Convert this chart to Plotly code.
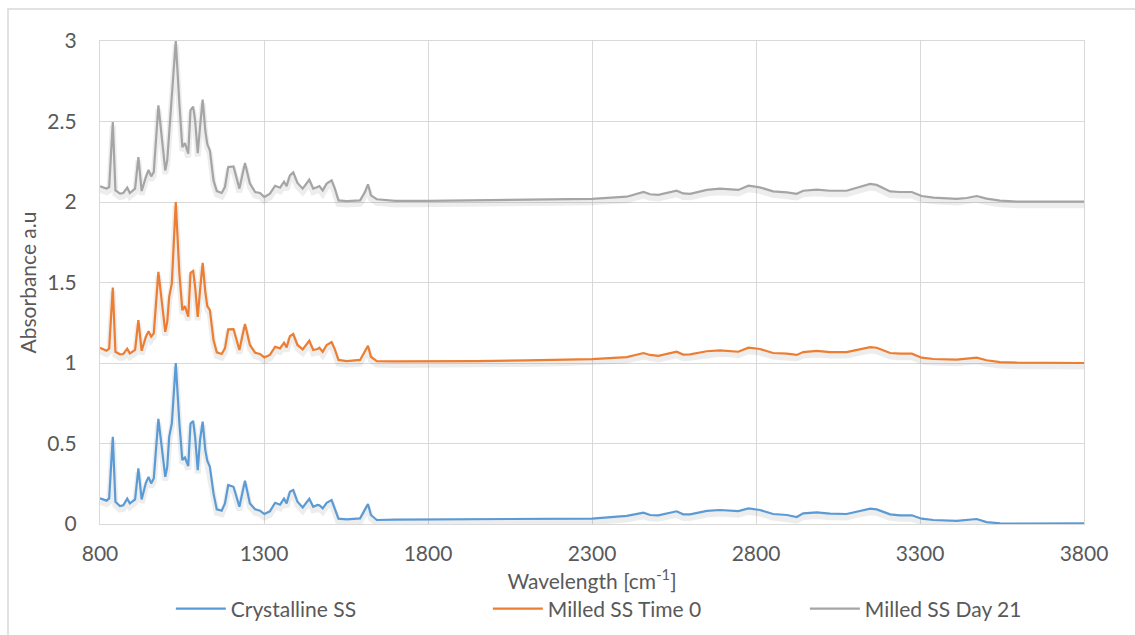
import plotly.graph_objects as go

# Wavenumber grid (cm^-1) shared by the three spectra
wavenumber = [
    800, 820, 828, 839, 847, 861, 871, 883, 891, 907, 917, 927, 940, 948, 956, 964,
    978, 987, 999, 1005, 1011, 1019, 1031, 1042, 1051, 1059, 1069, 1076, 1084, 1090,
    1098, 1105, 1113, 1121, 1127, 1135, 1146, 1156, 1171, 1181, 1191, 1207, 1225, 1242,
    1257, 1273, 1288, 1301, 1318, 1334, 1349, 1361, 1369, 1379, 1389, 1402, 1418, 1438,
    1450, 1463, 1469, 1479, 1491, 1506, 1516, 1527, 1552, 1593, 1608, 1617, 1626, 1644,
    1700, 1800, 1950, 2100, 2200, 2300,
    2406, 2457, 2477, 2502, 2558, 2578, 2599, 2650, 2690, 2731, 2746, 2777, 2812, 2852,
    2894, 2924, 2944, 2985, 3026, 3076, 3117, 3148, 3168, 3209, 3239, 3275, 3305, 3341,
    3412, 3442, 3473, 3503, 3544, 3595, 3700, 3800,
]

crystalline_ss = [
    0.159, 0.145, 0.159, 0.541, 0.138, 0.112, 0.116, 0.157, 0.128, 0.153, 0.345, 0.153,
    0.256, 0.293, 0.252, 0.283, 0.653, 0.483, 0.293, 0.355, 0.541, 0.624, 1.0, 0.624,
    0.397, 0.413, 0.36, 0.624, 0.64, 0.541, 0.335, 0.521, 0.636, 0.459, 0.393, 0.355,
    0.19, 0.091, 0.083, 0.128, 0.242, 0.231, 0.107, 0.269, 0.128, 0.091, 0.083, 0.062,
    0.079, 0.132, 0.12, 0.157, 0.128, 0.2, 0.211, 0.138, 0.103, 0.157, 0.107, 0.118,
    0.116, 0.097, 0.132, 0.149, 0.097, 0.033, 0.029, 0.035, 0.091, 0.124, 0.056, 0.025,
    0.027, 0.028, 0.03, 0.032, 0.033, 0.034,
    0.05, 0.07, 0.056, 0.054, 0.079, 0.06, 0.06, 0.081, 0.087, 0.081, 0.08, 0.097,
    0.087, 0.062, 0.056, 0.043, 0.066, 0.072, 0.064, 0.062, 0.083, 0.095, 0.091, 0.06,
    0.054, 0.054, 0.033, 0.025, 0.019, 0.023, 0.031, 0.012, 0.004, 0.002, 0.004, 0.004,
]

milled_time0 = [
    1.095, 1.076, 1.09, 1.469, 1.07, 1.054, 1.056, 1.089, 1.06, 1.081, 1.267, 1.076,
    1.163, 1.198, 1.163, 1.184, 1.566, 1.40, 1.194, 1.256, 1.411, 1.494, 2.0, 1.556,
    1.328, 1.353, 1.287, 1.56, 1.572, 1.473, 1.287, 1.452, 1.622, 1.442, 1.353, 1.328,
    1.143, 1.066, 1.056, 1.091, 1.209, 1.211, 1.081, 1.242, 1.112, 1.064, 1.056, 1.035,
    1.05, 1.101, 1.091, 1.126, 1.097, 1.167, 1.18, 1.112, 1.085, 1.138, 1.081, 1.087,
    1.095, 1.07, 1.112, 1.13, 1.085, 1.019, 1.012, 1.019, 1.07, 1.107, 1.039, 1.012,
    1.01, 1.01, 1.012, 1.016, 1.02, 1.024,
    1.037, 1.062, 1.05, 1.044, 1.07, 1.052, 1.054, 1.073, 1.079, 1.075, 1.07, 1.095,
    1.087, 1.062, 1.058, 1.05, 1.068, 1.075, 1.068, 1.068, 1.087, 1.099, 1.095, 1.062,
    1.058, 1.058, 1.033, 1.025, 1.021, 1.025, 1.033, 1.017, 1.006, 1.002, 1.0, 1.0,
]

milled_day21 = [
    2.097, 2.083, 2.093, 2.496, 2.072, 2.052, 2.056, 2.089, 2.056, 2.083, 2.279, 2.068,
    2.155, 2.2, 2.159, 2.186, 2.6, 2.424, 2.196, 2.258, 2.44, 2.65, 3.0, 2.61,
    2.34, 2.366, 2.3, 2.57, 2.593, 2.506, 2.304, 2.465, 2.636, 2.444, 2.36, 2.32,
    2.134, 2.068, 2.056, 2.093, 2.217, 2.221, 2.083, 2.242, 2.114, 2.062, 2.056, 2.031,
    2.052, 2.101, 2.089, 2.126, 2.099, 2.165, 2.184, 2.118, 2.083, 2.138, 2.083, 2.093,
    2.099, 2.072, 2.114, 2.134, 2.083, 2.01, 2.006, 2.01, 2.062, 2.11, 2.041, 2.017,
    2.007, 2.007, 2.01, 2.016, 2.018, 2.02,
    2.033, 2.062, 2.048, 2.044, 2.07, 2.053, 2.051, 2.075, 2.083, 2.079, 2.075, 2.101,
    2.091, 2.066, 2.06, 2.051, 2.07, 2.077, 2.07, 2.07, 2.095, 2.112, 2.106, 2.066,
    2.062, 2.062, 2.037, 2.027, 2.019, 2.025, 2.037, 2.021, 2.008, 2.002, 2.002, 2.002,
]

series_names = ["Crystalline SS", "Milled SS Time 0", "Milled SS Day 21"]
series_colors = ["#5b9bd5", "#ed7d31", "#a5a5a5"]
series_values = [crystalline_ss, milled_time0, milled_day21]

x_ticks = [800, 1300, 1800, 2300, 2800, 3300, 3800]
y_ticks = [0, 0.5, 1, 1.5, 2, 2.5, 3]

text_color = "#595959"
grid_color = "#d9d9d9"
font_family = "Lato, 'Open Sans', sans-serif"
font_size = 21

fig = go.Figure()

# soft drop shadow under each spectrum
shadow_drop = 0.022
for vals in series_values:
    fig.add_trace(go.Scatter(
        x=wavenumber, y=[v - shadow_drop for v in vals], mode="lines",
        line=dict(color="rgba(0,0,0,0.07)", width=6),
        showlegend=False, hoverinfo="skip",
    ))

for name, color, vals in zip(series_names, series_colors, series_values):
    fig.add_trace(go.Scatter(
        x=wavenumber, y=vals, mode="lines", name=name,
        line=dict(color=color, width=2.2),
    ))

fig.update_layout(
    width=1135, height=635,
    margin=dict(l=100, r=51, t=41, b=111, autoexpand=False),
    paper_bgcolor="white", plot_bgcolor="white",
    font=dict(family=font_family, color=text_color, size=font_size),
    showlegend=True,
    legend=dict(
        orientation="h", x=0.072, xanchor="left", y=-0.176, yanchor="middle",
        font=dict(size=font_size, color=text_color), entrywidth=252, itemwidth=50,
        bgcolor="rgba(0,0,0,0)",
    ),
    shapes=[dict(
        type="rect", xref="paper", yref="paper",
        x0=-0.0935, x1=1.06, y0=-0.25, y1=1.066,
        line=dict(color=grid_color, width=1.5), layer="below",
    )],
)

fig.update_xaxes(
    range=[800, 3800], tickvals=x_ticks, ticktext=[str(t) for t in x_ticks],
    showgrid=True, gridcolor=grid_color, gridwidth=1.3,
    showline=True, linecolor=grid_color, linewidth=1.3, mirror=True,
    zeroline=False, ticks="", ticklabelstandoff=11, automargin=False,
    tickfont=dict(size=font_size, color=text_color),
    title=dict(text="Wavelength [cm<sup>-1</sup>]", font=dict(size=font_size, color=text_color), standoff=2),
)
fig.update_yaxes(
    range=[0, 3], tickvals=y_ticks, ticktext=["0", "0.5", "1", "1.5", "2", "2.5", "3"],
    showgrid=True, gridcolor=grid_color, gridwidth=1.3,
    showline=True, linecolor=grid_color, linewidth=1.3, mirror=True,
    zeroline=False, ticks="", ticklabelstandoff=18, automargin=False,
    tickfont=dict(size=font_size, color=text_color),
    title=dict(text="Absorbance a.u", font=dict(size=font_size, color=text_color), standoff=4),
)

fig.write_html("out.html")
